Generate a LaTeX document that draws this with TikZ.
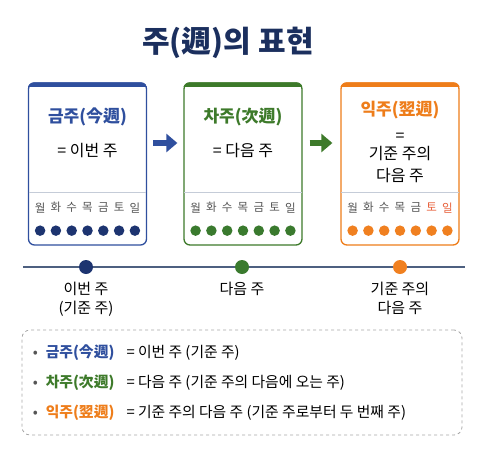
\documentclass[tikz,border=0pt]{standalone}
\usepackage{fontspec}
\setmainfont{Noto Sans CJK KR}
\usepackage{tikz}
\usetikzlibrary{positioning, arrows.meta, calc}

\definecolor{titlenavy}{HTML}{1B2F5E}
\definecolor{cblue}{HTML}{2F4F9E}
\definecolor{cbluedot}{HTML}{1D3470}
\definecolor{cgreen}{HTML}{3D7A2A}
\definecolor{cgreendot}{HTML}{3A7A2E}
\definecolor{corange}{HTML}{EE7D1A}
\definecolor{corangedot}{HTML}{F08020}
\definecolor{weekendred}{HTML}{E8603A}
\definecolor{daygray}{HTML}{555555}
\definecolor{dividergray}{HTML}{C5CCD8}
\definecolor{linenavy}{HTML}{4D6080}

\begin{document}
\begin{tikzpicture}[x=1pt, y=-1pt, >=Latex]
    % Define styles
    \tikzset{
        card/.style={draw, rectangle, rounded corners=6pt, minimum width=118pt, minimum height=162pt, line width=1.3pt, fill=white},
        head/.style={font=\fontsize{17}{20}\selectfont\bfseries, inner sep=0pt},
        body/.style={font=\fontsize{16}{22}\selectfont, align=center, inner sep=0pt},
        day/.style={font=\fontsize{11.5}{13}\selectfont, inner sep=0pt},
        dot/.style={circle, inner sep=0pt, minimum size=10.5pt},
        bigdot/.style={circle, inner sep=0pt, minimum size=14pt},
        mark label/.style={font=\fontsize{15}{19}\selectfont, align=center, inner sep=0pt},
        item/.style={font=\fontsize{14.8}{17}\selectfont, anchor=west, inner sep=0pt},
        block arrow/.style={line width=6pt, -{Triangle[length=11pt, width=18pt]}},
    }
    \useasboundingbox (0,0) rectangle (486,452);

    % Title
    \node[font=\fontsize{30}{34}\selectfont\bfseries, text=titlenavy] (title) at (228,43) {주(週)의 표현};

    % Cards
    \node[card, draw=cblue] (c1) at (87.5,164) {};
    \node[card, draw=cgreen] (c2) at (243,164) {};
    \node[card, draw=corange] (c3) at (400,164) {};

    % Top strip, divider, weekdays and dots of each card
    \foreach \c/\col/\dotcol/\wkcol in {c1/cblue/cbluedot/daygray, c2/cgreen/cgreendot/daygray, c3/corange/corangedot/weekendred} {
        \begin{scope}
            \clip[rounded corners=6pt] (\c.south west) rectangle (\c.north east);
            \fill[\col] (\c.north west) rectangle ([yshift=-4.5pt]\c.north east);
        \end{scope}
        \draw[dividergray, line width=1pt] ([yshift=53pt, xshift=0.7pt]\c.south west) -- ([yshift=53pt, xshift=-0.7pt]\c.south east);
        \foreach \d [count=\i] in {월,화,수,목,금,토,일} {
            \ifnum\i>5 \def\dc{\wkcol}\else \def\dc{daygray}\fi
            \node[day, text=\dc] at ([xshift=(\i-4)*15.8pt, yshift=38pt]\c.south) {\d};
            \node[dot, fill=\dotcol] at ([xshift=(\i-4)*15.8pt, yshift=15pt]\c.south) {};
        }
    }

    % Card texts
    \node[head, text=cblue] (h1) at ([yshift=-35pt]c1.north) {금주(今週)};
    \node[body] (b1) at ([yshift=-68pt]c1.north) {= 이번 주};
    \node[head, text=cgreen] (h2) at ([yshift=-35pt]c2.north) {차주(次週)};
    \node[body] (b2) at ([yshift=-68pt]c2.north) {= 다음 주};
    \node[head, text=corange] (h3) at ([yshift=-28pt]c3.north) {익주(翌週)};
    \node[body, text height=3pt, text depth=0pt] (e3) at ([yshift=-58pt]c3.north) {=};
    \node[body] (b3) at ([yshift=-82pt]c3.north) {기준 주의\\다음 주};

    % Arrows between cards
    \draw[block arrow, cblue] ([yshift=21pt]c1.east) ++(6,0) -- ([yshift=21pt, xshift=-6pt]c2.west);
    \draw[block arrow, cgreen] ([yshift=21pt]c2.east) ++(7,0) -- ([yshift=21pt, xshift=-8pt]c3.west);

    % Timeline
    \coordinate (tl) at (23,267);
    \coordinate (tr) at (465,267);
    \draw[linenavy, line width=2pt] (tl) -- (tr);
    \node[bigdot, fill=cbluedot] (t1) at (86,267) {};
    \node[bigdot, fill=cgreendot] (t2) at (242,267) {};
    \node[bigdot, fill=corangedot] (t3) at (400,267) {};
    \node[mark label, below=8pt of t1] {이번 주\\(기준 주)};
    \node[mark label, below=8pt of t2] {다음 주};
    \node[mark label, below=8pt of t3] {기준 주의\\다음 주};

    % Legend
    \node[draw=gray!70, dashed, rounded corners=8pt, line width=0.8pt, minimum width=440pt, minimum height=105pt] (lg) at (242,382.5) {};
    \node[item] (l1) at ([xshift=11pt, yshift=30pt]lg.west) {\textcolor{daygray}{•}\hspace{8pt}{\bfseries\color{cblue}금주(今週)}\hspace{12pt}= 이번 주 (기준 주)};
    \node[item] (l2) at ([xshift=11pt]lg.west) {\textcolor{daygray}{•}\hspace{8pt}{\bfseries\color{cgreen}차주(次週)}\hspace{12pt}= 다음 주 (기준 주의 다음에 오는 주)};
    \node[item] (l3) at ([xshift=11pt, yshift=-30pt]lg.west) {\textcolor{daygray}{•}\hspace{8pt}{\bfseries\color{corange}익주(翌週)}\hspace{12pt}= 기준 주의 다음 주 (기준 주로부터 두 번째 주)};
\end{tikzpicture}
\end{document}
